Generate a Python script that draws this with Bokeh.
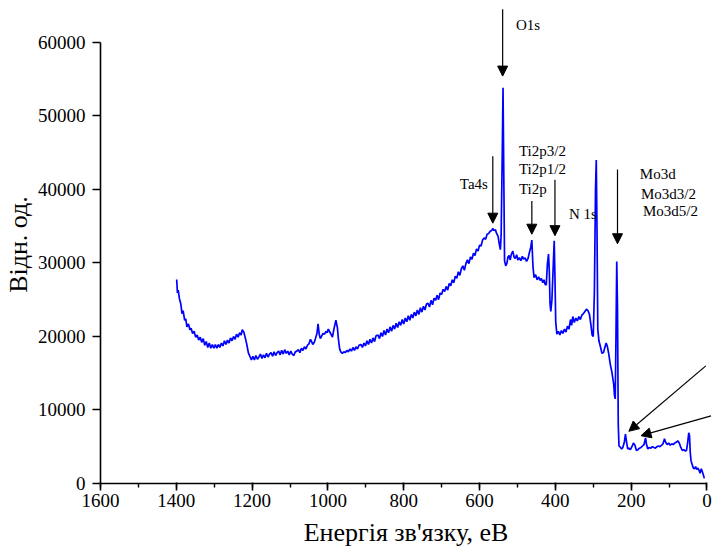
from bokeh.plotting import figure
from bokeh.models import (Range1d, SingleIntervalTicker, Arrow, NormalHead, Label)
from bokeh.embed import file_html
from bokeh.resources import INLINE

# XPS survey spectrum: binding energy (eV) and intensity (arb. units)
energy = [
    1399, 1397, 1395, 1392, 1388, 1385, 1382, 1378, 1375, 1372, 1368, 1364, 1361, 1357, 1353, 1349,
    1345, 1341, 1337, 1333, 1329, 1325, 1321, 1317, 1313, 1309, 1305, 1301, 1297, 1293, 1289, 1285,
    1281, 1277, 1273, 1269, 1265, 1261, 1257, 1253, 1249, 1245, 1241, 1237, 1233, 1229, 1226, 1222,
    1218, 1214, 1210, 1206, 1202, 1198, 1194, 1190, 1186, 1182, 1178, 1174, 1170, 1166, 1162, 1158,
    1154, 1150, 1146, 1142, 1138, 1134, 1130, 1126, 1122, 1118, 1114, 1110, 1106, 1102, 1098, 1094,
    1090, 1086, 1082, 1078, 1074, 1070, 1066, 1062, 1058, 1054, 1050, 1046, 1043, 1040, 1036, 1033,
    1029, 1026, 1023, 1020, 1017, 1013, 1009, 1005, 1002, 999, 995, 991, 988, 985, 982, 979,
    975, 972, 969, 966, 962, 958, 954, 950, 946, 942, 938, 934, 930, 926, 922, 918,
    913, 909, 905, 901, 897, 893, 889, 885, 881, 877, 873, 868, 864, 860, 856, 852,
    848, 844, 840, 836, 832, 828, 824, 820, 816, 812, 808, 804, 800, 796, 792, 788,
    784, 780, 776, 772, 768, 764, 760, 756, 752, 748, 744, 740, 736, 732, 728, 724,
    720, 716, 712, 708, 704, 700, 696, 692, 688, 684, 680, 676, 672, 668, 664, 660,
    656, 652, 648, 644, 640, 636, 632, 628, 624, 620, 616, 612, 608, 604, 600, 596,
    592, 588, 584, 580, 576, 572, 568, 565, 562, 558, 555, 551, 548, 545, 543, 540,
    538, 536, 534, 531, 528, 525, 522, 519, 516, 512, 509, 506, 502, 499, 495, 491,
    487, 484, 480, 476, 472, 469, 465, 462, 459, 456, 452, 448, 444, 440, 437, 433,
    430, 427, 424, 421, 418, 416, 414, 412, 409, 406, 403, 401, 399, 396, 392, 388,
    384, 380, 376, 372, 368, 364, 360, 357, 354, 350, 346, 342, 338, 334, 330, 326,
    322, 318, 314, 310, 306, 303, 300, 297, 294, 292, 290, 288, 285, 281, 277, 273,
    270, 266, 263, 259, 255, 251, 248, 246, 244, 242, 240, 238, 236, 234, 232, 228,
    225, 222, 218, 215, 212, 209, 206, 202, 198, 194, 190, 186, 182, 178, 174, 170,
    166, 162, 159, 156, 152, 148, 144, 140, 136, 132, 128, 124, 120, 116, 112, 109,
    105, 101, 97, 93, 89, 85, 81, 77, 73, 69, 65, 61, 57, 54, 51, 48,
    46, 44, 42, 39, 36, 33, 30, 27, 24, 21, 18, 15, 12, 9, 7,
]
intensity = [
    27750, 25900, 26300, 25200, 24400, 23100, 23500, 22200, 22400, 21300, 21700, 20900, 21100, 20400, 20700, 19900,
    20200, 19500, 19900, 19200, 19700, 18800, 19300, 18500, 19100, 18400, 18900, 18400, 18900, 18400, 18900, 18500,
    19100, 18700, 19400, 18900, 19500, 19100, 19800, 19400, 20000, 19600, 20300, 19900, 20500, 20200, 20900, 20600,
    19800, 18900, 17800, 17300, 16800, 17300, 16800, 17400, 16900, 17200, 17600, 17000, 17500, 17100, 17700, 17200,
    17600, 17800, 17300, 17900, 17400, 17800, 18000, 17500, 18100, 17600, 18200, 17700, 18000, 17500, 18000, 17600,
    17400, 17900, 18000, 18200, 17800, 18400, 18100, 18600, 18300, 18800, 19000, 19600, 19300, 18900, 19200, 19700,
    20400, 21700, 20300, 19700, 20000, 20400, 20300, 20700, 20500, 21000, 20600, 20200, 19900, 20800, 21500, 22200,
    21200, 19500, 18300, 17900, 17700, 17900, 17800, 18100, 17900, 18300, 18000, 18500, 18100, 18600, 18300, 18800,
    18900, 18500, 19100, 18700, 19400, 18900, 19600, 19100, 19800, 19300, 20100, 20200, 19700, 20500, 20000, 20800,
    20200, 21000, 20500, 21300, 20700, 21500, 21000, 21800, 21200, 22000, 21500, 22300, 21700, 22500, 22000, 22800,
    22200, 23000, 22500, 23300, 22800, 23600, 23000, 23900, 23300, 24100, 23600, 24400, 24500, 24000, 24900, 24300,
    25200, 24900, 25600, 25000, 25900, 25700, 26400, 26100, 26800, 26300, 27200, 26900, 27700, 27300, 28200, 27900,
    28800, 28300, 29200, 29600, 29000, 29900, 30400, 29900, 30800, 30500, 31300, 31000, 31900, 31600, 32400, 32300,
    33100, 33400, 33200, 33900, 34000, 34300, 34400, 34700, 34400, 34500, 34000, 33600, 32600, 31800, 33800, 45000,
    53800, 42000, 30300, 29600, 29900, 30800, 31000, 30400, 31200, 31600, 30800, 30600, 31100, 30400, 30700, 30300,
    30900, 30500, 30700, 30200, 30600, 31300, 32100, 33100, 29500, 28000, 28400, 27700, 28100, 27600, 27900, 27300,
    27700, 27100, 27000, 29800, 31200, 29000, 24500, 23400, 25000, 29000, 33000, 28000, 22000, 20300, 20700, 20200,
    20800, 20400, 21000, 20600, 21400, 21000, 22300, 21500, 22700, 21900, 22500, 22100, 22700, 22300, 22900, 23100,
    23400, 23700, 23500, 23000, 21500, 20200, 20000, 26000, 40000, 44000, 34000, 21000, 19400, 18600, 17700, 17800,
    18400, 19100, 18700, 17600, 16200, 15200, 14200, 13500, 12000, 11500, 20000, 30200, 24000, 8000, 5100, 4900,
    4700, 4900, 5600, 6700, 5600, 4700, 4800, 4600, 5000, 5500, 5200, 4500, 4600, 4800, 4900, 5100,
    5300, 6200, 5200, 4700, 4900, 4800, 5000, 4900, 4800, 5000, 5100, 5000, 5200, 5400, 6100, 5600,
    5300, 5500, 5200, 5400, 5300, 5500, 5600, 5800, 5500, 4900, 4500, 4600, 4400, 4500, 5500, 6900,
    6500, 4200, 3100, 2600, 2100, 2000, 2300, 1900, 2100, 1800, 1400, 2000, 1600, 1100, 700,
]

# Peak labels
peak_labels = ["O1s", "Ta4s", "Ti2p3/2", "Ti2p1/2", "Ti2p", "N 1s", "Mo3d", "Mo3d3/2", "Mo3d5/2"]

FONT = "Liberation Serif"

p = figure(width=717, height=555, output_backend="svg", toolbar_location=None,
           x_range=Range1d(1600, -12), y_range=Range1d(0, 65000),
           min_border_left=100, min_border_right=6, min_border_top=5, min_border_bottom=72)
p.grid.visible = False
p.outline_line_color = None
p.background_fill_color = "white"
p.border_fill_color = "white"

p.line(energy, intensity, line_color="#0000ff", line_width=1.7)

# axes
xa = p.xaxis[0]
xa.ticker = SingleIntervalTicker(interval=200, num_minor_ticks=2)
xa.bounds = (0, 1600)
xa.axis_label = "Енергія зв'язку, еВ"
ya = p.yaxis[0]
ya.ticker = SingleIntervalTicker(interval=10000, num_minor_ticks=0)
ya.bounds = (0, 60000)
ya.axis_label = "Відн. од."

for ax in (xa, ya):
    ax.axis_line_color = "black"
    ax.axis_line_width = 1.6
    ax.major_tick_line_color = "black"
    ax.major_tick_line_width = 1.6
    ax.minor_tick_line_color = "black"
    ax.minor_tick_line_width = 1.4
    ax.major_label_text_font = FONT
    ax.major_label_text_font_size = "19px"
    ax.major_label_text_color = "black"
    ax.axis_label_text_font = FONT
    ax.axis_label_text_font_size = "26px"
    ax.axis_label_text_font_style = "normal"
    ax.axis_label_text_color = "black"

xa.major_tick_in = 1
xa.major_tick_out = 7
xa.minor_tick_in = 0
xa.minor_tick_out = 4
xa.major_label_standoff = 3
xa.axis_label_standoff = 8

ya.major_tick_in = 0
ya.major_tick_out = 8
ya.minor_tick_out = 0
ya.major_label_standoff = 7
ya.axis_label_standoff = 2
ya.major_label_orientation = "horizontal"

# annotation arrows: (x_start, y_start, x_end, y_end) in data units
arrows = [
    (539, 64500, 539, 55400),
    (565, 44500, 565, 35400),
    (462, 38400, 462, 33900),
    (401, 41300, 401, 33700),
    (236, 42700, 236, 32600),
    (3, 16000, 206, 7100),
    (-11, 9200, 174, 6500),
]
for xs, ys, xe, ye in arrows:
    p.add_layout(Arrow(x_start=xs, y_start=ys, x_end=xe, y_end=ye,
                       line_color="black", line_width=1.2,
                       end=NormalHead(size=10, fill_color="black", line_color="black")))

# label anchor points (left edge, vertical middle) in data units
label_pos = [
    (504, 62300), (652, 40700), (496, 45200), (496, 42700), (496, 40000),
    (364, 36600), (177, 42100), (174, 39300), (169, 37000),
]
for text, (lx, ly) in zip(peak_labels, label_pos):
    p.add_layout(Label(x=lx, y=ly, text=text, text_font=FONT, text_font_size="15px",
                       text_color="black", text_align="left", text_baseline="middle"))

open("out.html", "w").write(file_html(p, INLINE))
